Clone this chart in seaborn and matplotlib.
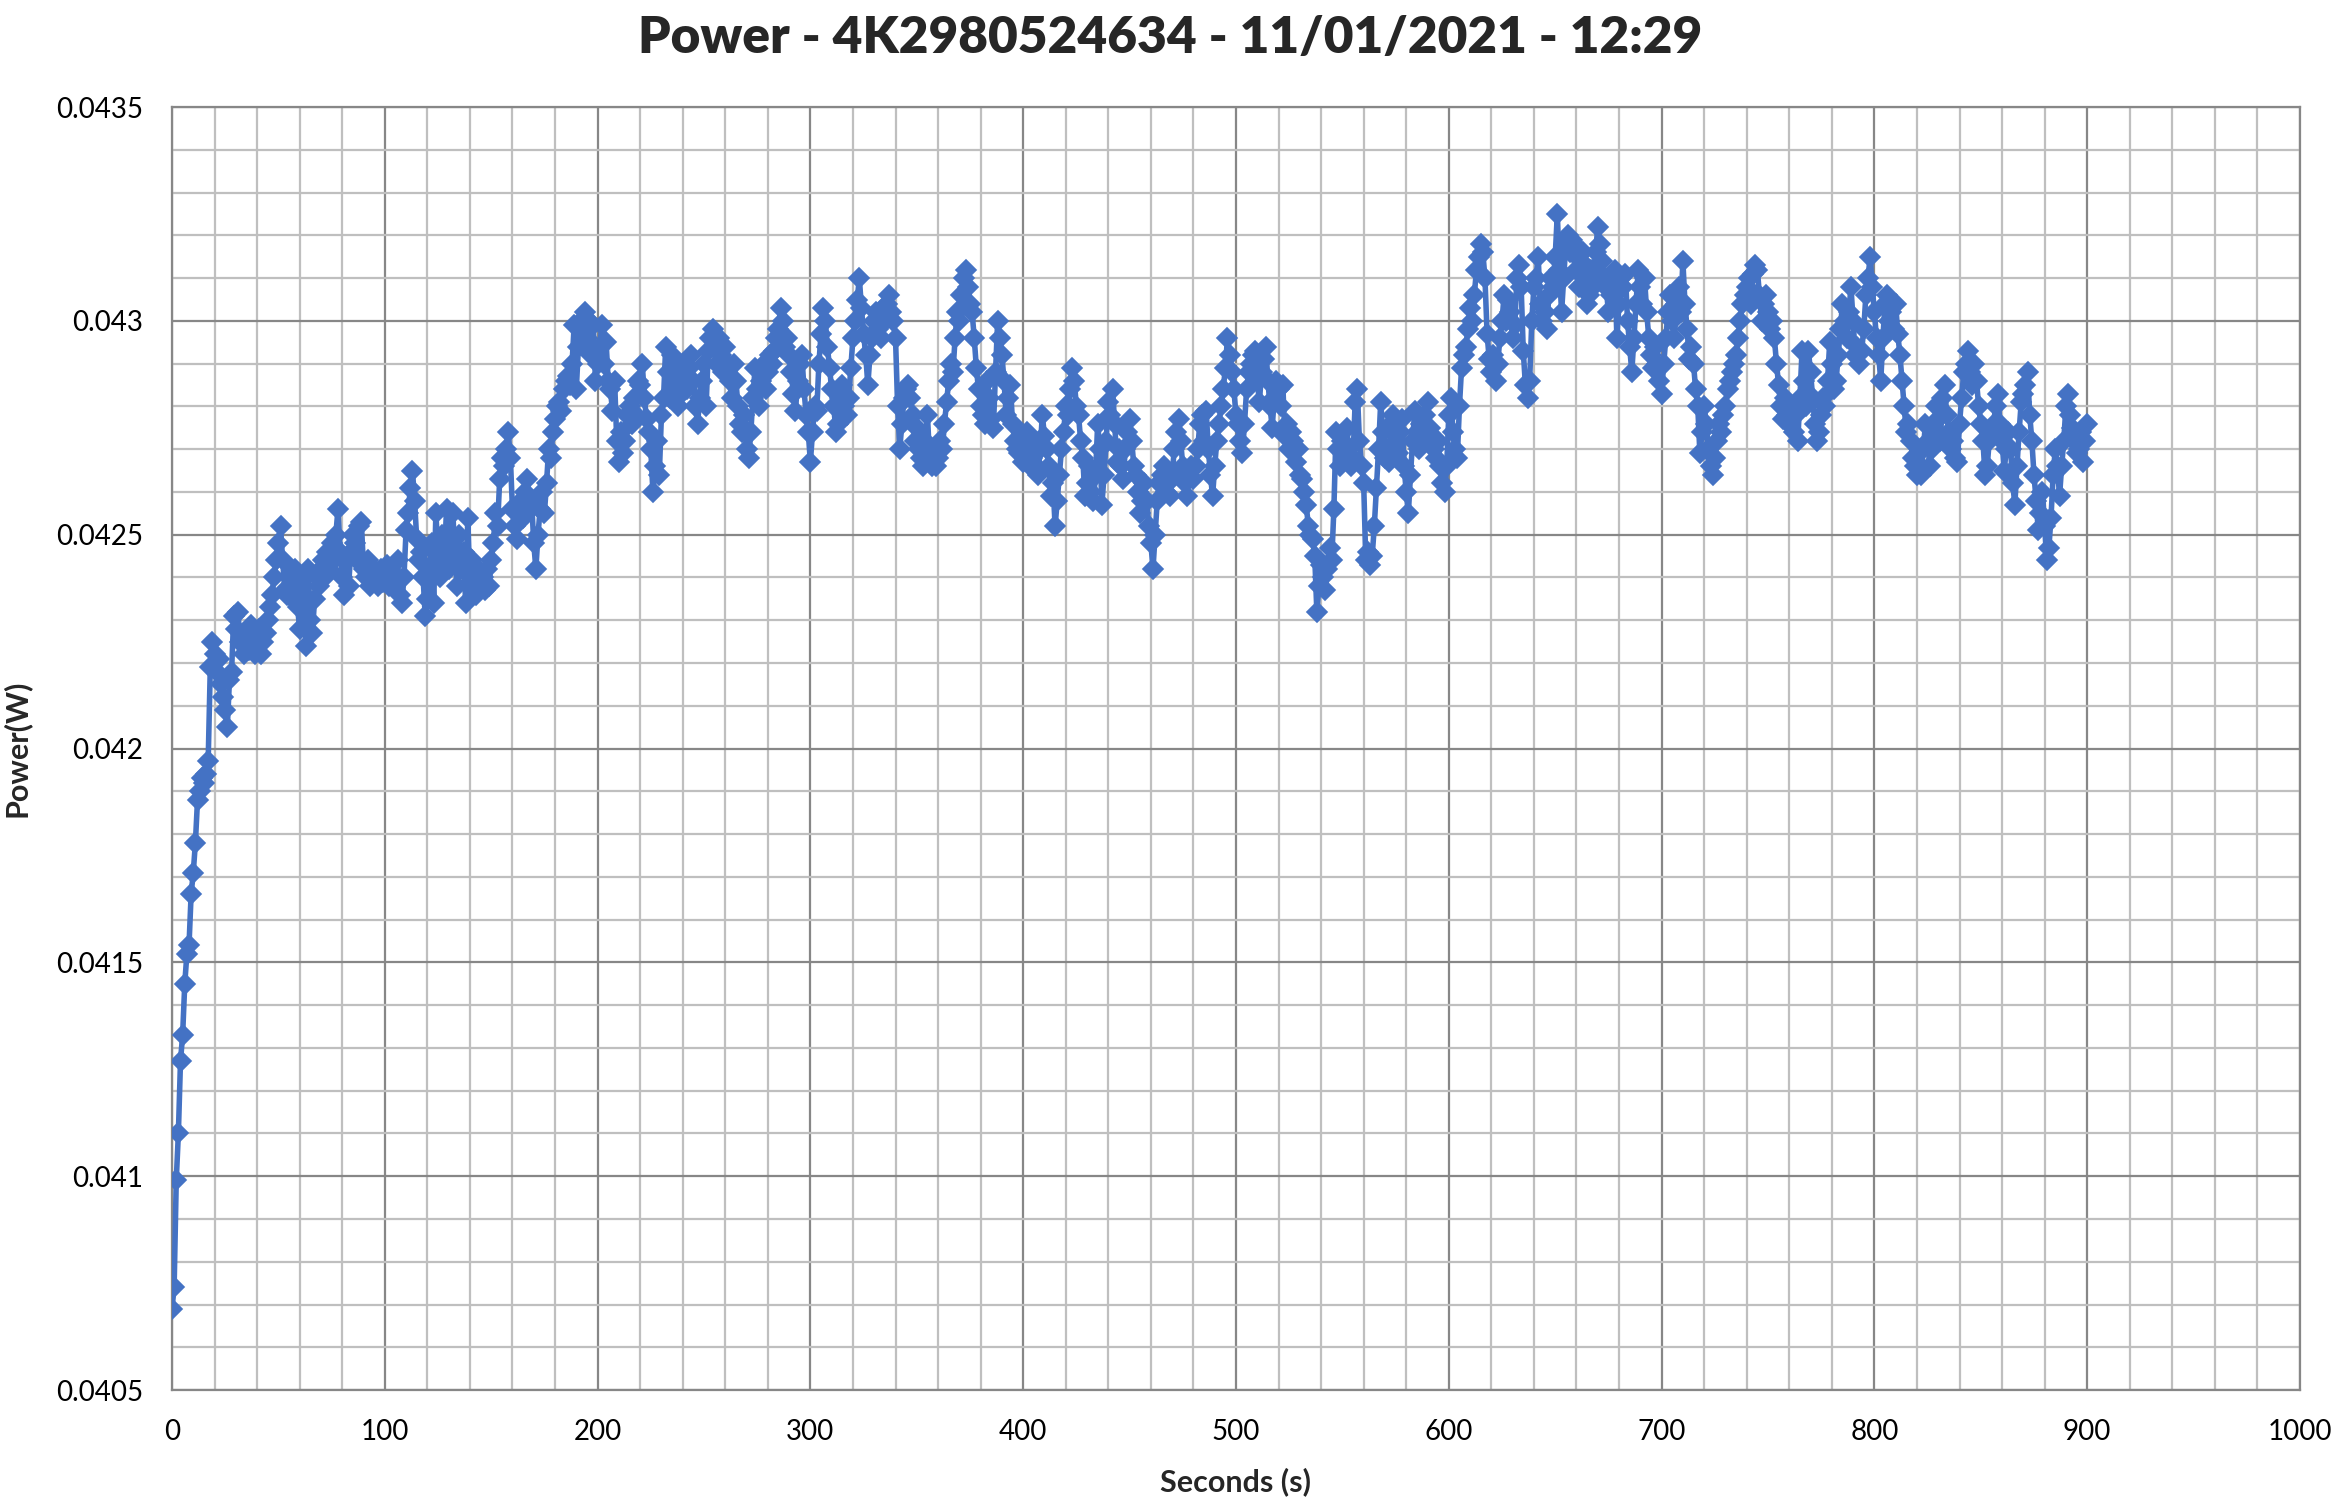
"""Power log chart: 4K2980524634, 11/01/2021 12:29 (Excel-style line + diamond markers)."""
import matplotlib
matplotlib.use("Agg")
import matplotlib.pyplot as plt
from matplotlib.ticker import MultipleLocator, FuncFormatter
import pandas as pd
import seaborn as sns

TITLE = "Power - 4K2980524634 - 11/01/2021 - 12:29"
X_LABEL = "Seconds (s)"
Y_LABEL = "Power(W)"

# power readings in mW, one per second (0 .. 900 s)
POWER_MW = [
    40.69, 40.74, 40.99, 41.10, 41.27, 41.33, 41.45, 41.52, 41.54, 41.66,
    41.71, 41.78, 41.88, 41.90, 41.93, 41.92, 41.94, 41.97, 42.19, 42.25,
    42.22, 42.18, 42.21, 42.15, 42.12, 42.09, 42.05, 42.16, 42.18, 42.31,
    42.28, 42.32, 42.25, 42.25, 42.22, 42.27, 42.23, 42.29, 42.24, 42.22,
    42.26, 42.28, 42.22, 42.25, 42.27, 42.30, 42.33, 42.36, 42.40, 42.44,
    42.48, 42.52, 42.44, 42.37, 42.36, 42.40, 42.38, 42.35, 42.42, 42.33,
    42.28, 42.40, 42.36, 42.24, 42.42, 42.30, 42.27, 42.35, 42.40, 42.38,
    42.42, 42.44, 42.40, 42.46, 42.42, 42.48, 42.44, 42.50, 42.56, 42.46,
    42.40, 42.36, 42.44, 42.38, 42.46, 42.50, 42.48, 42.44, 42.52, 42.53,
    42.42, 42.40, 42.44, 42.38, 42.40, 42.42, 42.40, 42.38, 42.42, 42.39,
    42.40, 42.43, 42.38, 42.41, 42.40, 42.38, 42.44, 42.36, 42.34, 42.40,
    42.51, 42.55, 42.61, 42.65, 42.58, 42.49, 42.44, 42.46, 42.40, 42.31,
    42.35, 42.42, 42.48, 42.34, 42.55, 42.46, 42.40, 42.50, 42.44, 42.56,
    42.42, 42.48, 42.55, 42.44, 42.38, 42.50, 42.42, 42.46, 42.34, 42.54,
    42.38, 42.44, 42.40, 42.36, 42.42, 42.38, 42.40, 42.37, 42.42, 42.38,
    42.44, 42.48, 42.55, 42.52, 42.63, 42.68, 42.66, 42.70, 42.74, 42.68,
    42.56, 42.52, 42.49, 42.55, 42.58, 42.54, 42.60, 42.63, 42.56, 42.58,
    42.48, 42.42, 42.50, 42.56, 42.60, 42.55, 42.62, 42.70, 42.68, 42.74,
    42.77, 42.80, 42.81, 42.79, 42.84, 42.86, 42.87, 42.85, 42.90, 42.99,
    42.84, 42.94, 43.00, 42.98, 43.02, 42.96, 43.00, 42.92, 42.99, 42.86,
    42.90, 42.94, 42.99, 42.90, 42.95, 42.86, 42.84, 42.79, 42.86, 42.72,
    42.67, 42.74, 42.69, 42.72, 42.78, 42.80, 42.76, 42.82, 42.78, 42.86,
    42.85, 42.90, 42.82, 42.77, 42.74, 42.70, 42.60, 42.66, 42.72, 42.64,
    42.78, 42.82, 42.94, 42.88, 42.82, 42.92, 42.88, 42.85, 42.80, 42.83,
    42.90, 42.86, 42.84, 42.89, 42.92, 42.86, 42.80, 42.76, 42.82, 42.86,
    42.90, 42.80, 42.93, 42.96, 42.98, 42.94, 42.90, 42.96, 42.92, 42.88,
    42.94, 42.90, 42.86, 42.82, 42.90, 42.86, 42.80, 42.76, 42.74, 42.78,
    42.70, 42.68, 42.74, 42.82, 42.89, 42.84, 42.80, 42.86, 42.90, 42.84,
    42.88, 42.92, 42.90, 42.93, 42.96, 42.98, 43.03, 43.00, 42.94, 42.96,
    42.92, 42.88, 42.83, 42.79, 42.86, 42.90, 42.92, 42.84, 42.78, 42.74,
    42.67, 42.74, 42.80, 42.79, 42.90, 42.97, 43.03, 43.00, 42.94, 42.89,
    42.84, 42.80, 42.74, 42.76, 42.82, 42.85, 42.80, 42.78, 42.82, 42.89,
    42.96, 43.00, 43.05, 43.10, 43.03, 42.97, 42.92, 42.85, 42.92, 42.96,
    43.00, 43.02, 42.98, 42.96, 43.03, 43.00, 43.04, 43.06, 43.02, 43.00,
    42.96, 42.80, 42.70, 42.76, 42.82, 42.84, 42.85, 42.82, 42.78, 42.72,
    42.75, 42.70, 42.68, 42.66, 42.72, 42.78, 42.68, 42.66, 42.70, 42.66,
    42.68, 42.72, 42.70, 42.76, 42.81, 42.86, 42.90, 42.88, 42.96, 43.02,
    43.00, 43.06, 43.10, 43.12, 43.08, 43.04, 43.02, 42.96, 42.89, 42.84,
    42.80, 42.78, 42.76, 42.86, 42.82, 42.77, 42.75, 42.88, 43.00, 42.96,
    42.92, 42.86, 42.78, 42.82, 42.85, 42.76, 42.72, 42.70, 42.69, 42.73,
    42.67, 42.70, 42.74, 42.66, 42.68, 42.72, 42.66, 42.64, 42.70, 42.78,
    42.73, 42.70, 42.66, 42.59, 42.62, 42.52, 42.58, 42.64, 42.70, 42.74,
    42.80, 42.78, 42.84, 42.89, 42.86, 42.80, 42.78, 42.72, 42.68, 42.59,
    42.62, 42.66, 42.60, 42.58, 42.64, 42.76, 42.70, 42.57, 42.64, 42.72,
    42.81, 42.78, 42.84, 42.76, 42.67, 42.70, 42.66, 42.63, 42.70, 42.74,
    42.77, 42.72, 42.66, 42.64, 42.60, 42.55, 42.58, 42.62, 42.58, 42.52,
    42.48, 42.42, 42.50, 42.58, 42.62, 42.64, 42.66, 42.60, 42.62, 42.59,
    42.64, 42.70, 42.74, 42.77, 42.72, 42.66, 42.62, 42.59, 42.64, 42.66,
    42.63, 42.66, 42.70, 42.76, 42.78, 42.72, 42.79, 42.70, 42.64, 42.59,
    42.66, 42.72, 42.76, 42.80, 42.84, 42.89, 42.96, 42.92, 42.88, 42.84,
    42.78, 42.76, 42.72, 42.69, 42.76, 42.84, 42.88, 42.90, 42.92, 42.93,
    42.86, 42.81, 42.88, 42.91, 42.94, 42.86, 42.80, 42.75, 42.82, 42.86,
    42.84, 42.80, 42.85, 42.73, 42.76, 42.70, 42.74, 42.72, 42.67, 42.70,
    42.64, 42.63, 42.60, 42.57, 42.52, 42.50, 42.49, 42.45, 42.32, 42.38,
    42.43, 42.40, 42.37, 42.42, 42.47, 42.44, 42.56, 42.74, 42.70, 42.66,
    42.72, 42.68, 42.75, 42.70, 42.66, 42.68, 42.81, 42.84, 42.72, 42.66,
    42.62, 42.44, 42.46, 42.43, 42.45, 42.52, 42.61, 42.70, 42.81, 42.74,
    42.68, 42.70, 42.67, 42.76, 42.78, 42.72, 42.69, 42.74, 42.77, 42.66,
    42.60, 42.55, 42.64, 42.72, 42.79, 42.74, 42.70, 42.76, 42.74, 42.78,
    42.81, 42.75, 42.72, 42.70, 42.68, 42.72, 42.66, 42.62, 42.60, 42.66,
    42.78, 42.82, 42.74, 42.70, 42.68, 42.80, 42.89, 42.92, 42.94, 42.98,
    43.03, 43.00, 43.06, 43.12, 43.15, 43.18, 43.16, 43.10, 42.97, 42.91,
    42.88, 42.92, 42.86, 42.90, 42.96, 43.00, 43.06, 43.00, 43.05, 43.02,
    42.96, 42.99, 43.10, 43.13, 43.08, 42.93, 42.85, 42.82, 42.86, 43.00,
    43.08, 43.10, 43.15, 43.04, 43.00, 43.02, 42.98, 43.06, 43.10, 43.08,
    43.15, 43.25, 43.12, 43.02, 43.10, 43.18, 43.20, 43.16, 43.19, 43.18,
    43.12, 43.08, 43.14, 43.16, 43.10, 43.04, 43.06, 43.12, 43.08, 43.16,
    43.22, 43.18, 43.14, 43.10, 43.08, 43.02, 43.06, 43.10, 43.12, 42.96,
    43.04, 43.10, 43.08, 43.11, 43.00, 42.94, 42.88, 42.96, 43.04, 43.12,
    43.08, 43.04, 43.10, 43.02, 42.96, 42.92, 42.89, 42.94, 42.90, 42.86,
    42.83, 42.90, 42.96, 43.02, 43.06, 43.00, 42.96, 43.04, 43.08, 43.02,
    43.14, 43.04, 42.98, 42.91, 42.94, 42.90, 42.84, 42.80, 42.69, 42.74,
    42.80, 42.76, 42.70, 42.66, 42.64, 42.68, 42.72, 42.76, 42.74, 42.78,
    42.80, 42.84, 42.86, 42.88, 42.90, 42.92, 42.96, 43.00, 43.04, 43.06,
    43.08, 43.10, 43.04, 43.11, 43.13, 43.12, 43.06, 43.00, 43.04, 43.06,
    43.02, 42.98, 43.00, 42.96, 42.90, 42.85, 42.80, 42.77, 42.82, 42.78,
    42.76, 42.80, 42.74, 42.78, 42.72, 42.82, 42.93, 42.86, 42.80, 42.93,
    42.88, 42.82, 42.76, 42.72, 42.74, 42.78, 42.82, 42.80, 42.86, 42.95,
    42.90, 42.84, 42.86, 42.92, 42.98, 43.04, 43.00, 42.96, 43.02, 43.08,
    43.00, 42.92, 42.94, 42.90, 42.93, 42.98, 43.06, 43.10, 43.15, 43.08,
    43.02, 42.96, 42.92, 42.86, 42.96, 43.04, 43.06, 43.00, 43.02, 42.98,
    43.04, 42.97, 42.92, 42.86, 42.80, 42.74, 42.76, 42.72, 42.68, 42.66,
    42.64, 42.66, 42.64, 42.70, 42.76, 42.72, 42.66, 42.70, 42.74, 42.80,
    42.77, 42.72, 42.82, 42.85, 42.78, 42.74, 42.70, 42.72, 42.68, 42.67,
    42.76, 42.82, 42.88, 42.90, 42.93, 42.88, 42.85, 42.90, 42.86, 42.80,
    42.76, 42.72, 42.64, 42.66, 42.72, 42.74, 42.76, 42.80, 42.83, 42.76,
    42.72, 42.65, 42.70, 42.74, 42.70, 42.62, 42.57, 42.66, 42.74, 42.81,
    42.83, 42.85, 42.88, 42.78, 42.72, 42.64, 42.58, 42.51, 42.55, 42.60,
    42.52, 42.44, 42.47, 42.54, 42.64, 42.70, 42.66, 42.59, 42.66, 42.72,
    42.80, 42.83, 42.78, 42.75, 42.72, 42.69, 42.70, 42.74, 42.67, 42.72,
    42.76,
]
SECONDS = list(range(len(POWER_MW)))

X_MIN, X_MAX = 0, 1000
Y_MIN, Y_MAX = 0.0405, 0.0435

LINE_COLOR = "#4472C4"
MAJOR_GRID = "#878787"
MINOR_GRID = "#BFBFBF"


def run():
    sns.set_style("white")
    plt.rcParams["font.family"] = ["Lato", "DejaVu Sans"]

    df = pd.DataFrame({"Seconds": SECONDS, "Power": [v / 1000 for v in POWER_MW]})

    fig = plt.figure(figsize=(23.4, 15.06), dpi=100)
    ax = fig.add_axes([0.0735, 0.077, 0.9094, 0.8519])

    sns.lineplot(data=df, x="Seconds", y="Power", ax=ax, color=LINE_COLOR,
                 linewidth=4.0, marker="D", markersize=10.5, markeredgewidth=1.2,
                 markeredgecolor=LINE_COLOR, markerfacecolor=LINE_COLOR,
                 estimator=None, sort=False, zorder=3)

    ax.set_xlim(X_MIN, X_MAX)
    ax.set_ylim(Y_MIN, Y_MAX)
    ax.xaxis.set_major_locator(MultipleLocator(100))
    ax.xaxis.set_minor_locator(MultipleLocator(20))
    ax.yaxis.set_major_locator(MultipleLocator(0.0005))
    ax.yaxis.set_minor_locator(MultipleLocator(0.0001))
    ax.yaxis.set_major_formatter(FuncFormatter(lambda v, p: f"{v:.4f}".rstrip("0")))

    ax.grid(which="major", color=MAJOR_GRID, linewidth=1.6, zorder=1)
    ax.grid(which="minor", color=MINOR_GRID, linewidth=1.6, zorder=0)
    ax.set_axisbelow(True)
    for side in ["top", "right", "left", "bottom"]:
        ax.spines[side].set_color(MAJOR_GRID)
        ax.spines[side].set_linewidth(1.6)

    ax.tick_params(which="major", direction="out", length=9, width=1.3,
                   color=MAJOR_GRID, labelsize=20, labelcolor="black", pad=12)
    ax.tick_params(which="minor", length=0)

    ax.set_xlabel(X_LABEL, fontsize=22, fontweight="bold", labelpad=16)
    ax.set_ylabel(Y_LABEL, fontsize=22, fontweight="bold", labelpad=18)
    fig.suptitle(TITLE, x=0.5, y=0.99, va="top", fontsize=37, fontweight="heavy")

    plt.savefig("out.png", dpi=100)
    plt.close()


if __name__ == "__main__":
    run()
